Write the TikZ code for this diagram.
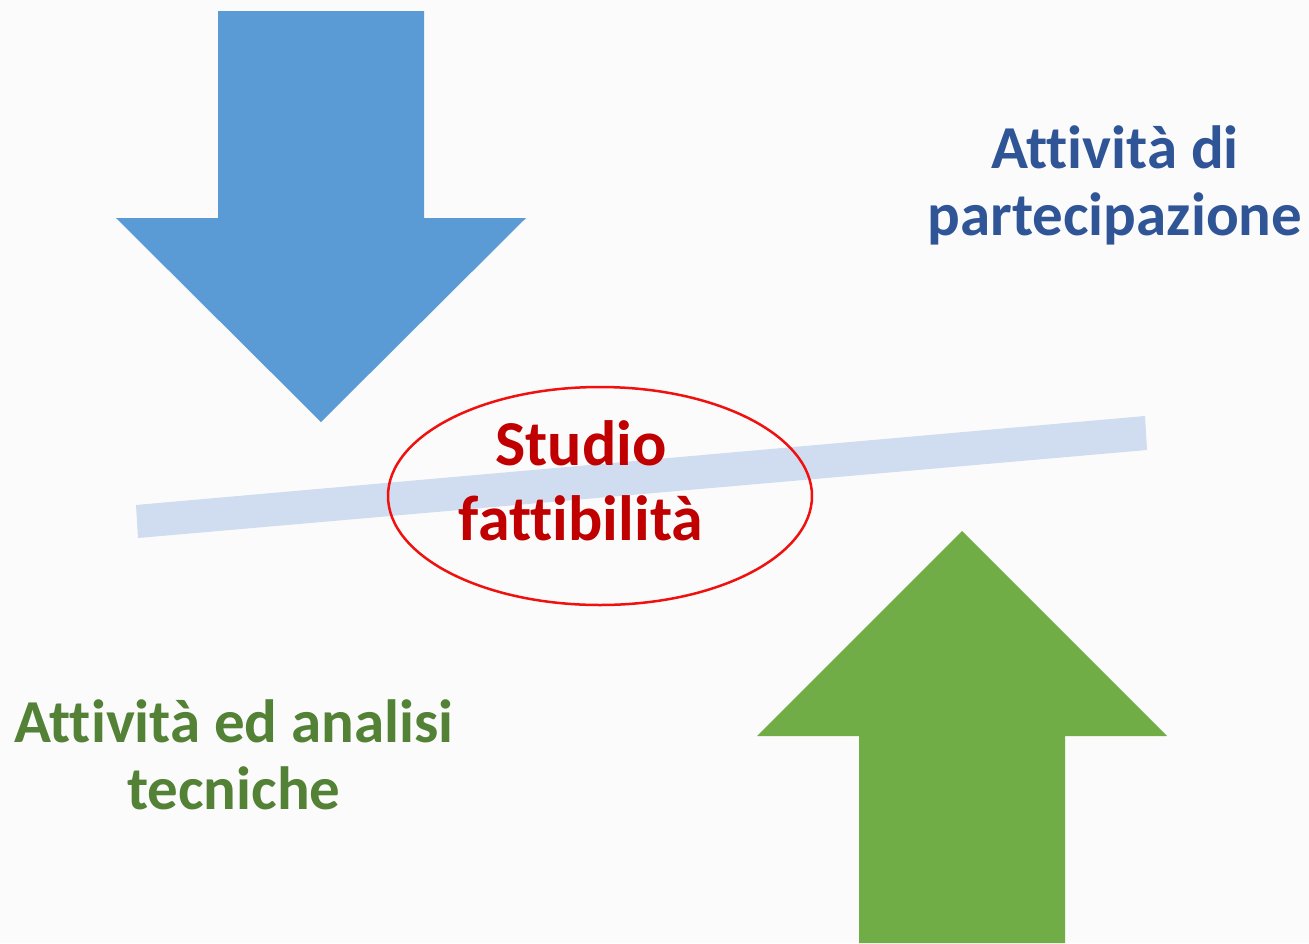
\documentclass[tikz,border=0pt]{standalone}
\usepackage{fontspec}
\setmainfont{Carlito}[RawFeature=-liga]
\usetikzlibrary{shapes.geometric}
\definecolor{bluearrow}{HTML}{5B9BD5}
\definecolor{greenarrow}{HTML}{70AD47}
\definecolor{barcol}{HTML}{D0DCEF}
\definecolor{ellred}{HTML}{F01010}
\definecolor{darkred}{HTML}{C00000}
\definecolor{txtgreen}{HTML}{538135}
\definecolor{txtblue}{HTML}{2F5597}
\definecolor{bgcol}{HTML}{FBFBFB}
\tikzset{
  lbl/.style={align=center, inner sep=0pt, font=\bfseries\fontsize{61}{67}\selectfont},
}
\begin{document}
\begin{tikzpicture}[x=1pt,y=-1pt]
\useasboundingbox (0,0) rectangle (1309,943);
\fill[bgcol] (0,0) rectangle (1309,943);
% blue arrow down
\fill[bluearrow] (218,11) -- (424,11) -- (424,218) -- (526,218) -- (321,422) -- (116,218) -- (218,218) -- cycle;
% green arrow up
\fill[greenarrow] (859,943) -- (1065,943) -- (1065,736) -- (1167,736) -- (962,531) -- (757,736) -- (859,736) -- cycle;
% bar
\fill[barcol] (136,505) -- (1145,416) -- (1147,450) -- (138,538) -- cycle;
% ellipse
\node[draw=ellred, line width=2.5pt, ellipse, minimum width=424pt, minimum height=218pt, inner sep=0pt] (ell) at (600,496) {};
\node[lbl, text=darkred, font=\bfseries\fontsize{64}{75}\selectfont] (studio) at (581,481) {Studio\\fattibilità};
\node[lbl, text=txtblue] (part) at (1115,185) {Attività di\\partecipazione};
\node[lbl, text=txtgreen] (tec) at (234,755) {Attività ed analisi\\tecniche};
\end{tikzpicture}
\end{document}
